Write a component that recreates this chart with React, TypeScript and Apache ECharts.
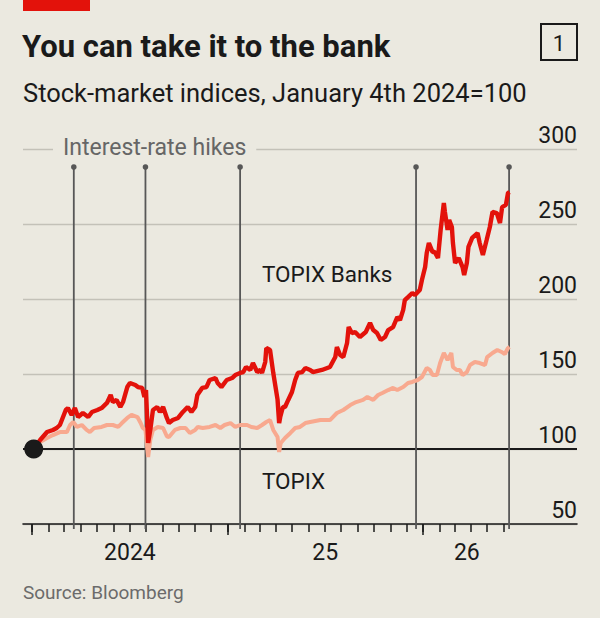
import React, { useEffect, useRef } from "react";
import * as echarts from "echarts";

// TOPIX Banks index, rebased to 100 on January 4th 2024
const banksData: [string, number][] = [
  ["2024-01-04", 100], ["2024-01-16", 106], ["2024-01-29", 111.3], ["2024-02-09", 112.7],
  ["2024-02-16", 114], ["2024-02-22", 116], ["2024-03-04", 126], ["2024-03-08", 127.3],
  ["2024-03-15", 122.7], ["2024-03-21", 127.3], ["2024-03-27", 121.3], ["2024-04-05", 124],
  ["2024-04-15", 121.3], ["2024-04-22", 124.7], ["2024-05-02", 126], ["2024-05-10", 127.3],
  ["2024-05-20", 130.7], ["2024-05-27", 136], ["2024-05-31", 131.3], ["2024-06-07", 132.7],
  ["2024-06-14", 128], ["2024-06-19", 131.3], ["2024-06-27", 141.3], ["2024-07-02", 144],
  ["2024-07-12", 142.7], ["2024-07-17", 141.3], ["2024-07-25", 140.7], ["2024-07-29", 134.7],
  ["2024-08-01", 139.3], ["2024-08-05", 104], ["2024-08-09", 112.7], ["2024-08-14", 126],
  ["2024-08-22", 128], ["2024-08-27", 124.7], ["2024-09-02", 128], ["2024-09-09", 120.7],
  ["2024-09-13", 117.3], ["2024-09-20", 119.3], ["2024-09-30", 120.7], ["2024-10-09", 124.7],
  ["2024-10-18", 128], ["2024-10-25", 124.7], ["2024-11-01", 128], ["2024-11-05", 136],
  ["2024-11-14", 140.7], ["2024-11-22", 141.3], ["2024-11-28", 146], ["2024-12-09", 147.3],
  ["2024-12-13", 144], ["2024-12-20", 141.3], ["2024-12-30", 146], ["2025-01-09", 147.3],
  ["2025-01-15", 149.3], ["2025-01-24", 150.7], ["2025-01-30", 151.3], ["2025-02-04", 154.7],
  ["2025-02-12", 152.7], ["2025-02-17", 157.3], ["2025-02-25", 151.3], ["2025-03-03", 152.7],
  ["2025-03-06", 150.7], ["2025-03-12", 158], ["2025-03-14", 167.3], ["2025-03-21", 166],
  ["2025-03-27", 150.7], ["2025-04-04", 133], ["2025-04-07", 117.3], ["2025-04-09", 121.3],
  ["2025-04-14", 128], ["2025-04-18", 128], ["2025-04-24", 132.7], ["2025-05-01", 138],
  ["2025-05-07", 146], ["2025-05-12", 150.7], ["2025-05-20", 151.3], ["2025-05-26", 154],
  ["2025-06-04", 152.7], ["2025-06-09", 151.3], ["2025-06-26", 152.7], ["2025-07-11", 154.7],
  ["2025-07-21", 161.3], ["2025-07-24", 168], ["2025-07-30", 162.7], ["2025-08-05", 161.3],
  ["2025-08-12", 170.7], ["2025-08-15", 181.3], ["2025-08-21", 177.3], ["2025-08-27", 178],
  ["2025-09-05", 174.7], ["2025-09-16", 178], ["2025-09-24", 184], ["2025-09-30", 179.3],
  ["2025-10-07", 177.3], ["2025-10-14", 172.7], ["2025-10-22", 174.7], ["2025-10-28", 179.3],
  ["2025-11-06", 181.3], ["2025-11-14", 188], ["2025-11-19", 186], ["2025-11-25", 192.7],
  ["2025-11-28", 199.3], ["2025-12-04", 201.3], ["2025-12-12", 204], ["2025-12-17", 202.7],
  ["2025-12-26", 206], ["2025-12-30", 212.7], ["2026-01-05", 221.3], ["2026-01-08", 230.7],
  ["2026-01-12", 237.3], ["2026-01-19", 231.3], ["2026-01-23", 231.3], ["2026-01-29", 227.3],
  ["2026-02-03", 246], ["2026-02-09", 264], ["2026-02-11", 258], ["2026-02-16", 246],
  ["2026-02-19", 252.7], ["2026-02-24", 248], ["2026-02-26", 237.3], ["2026-03-02", 224],
  ["2026-03-09", 227.3], ["2026-03-16", 221.3], ["2026-03-19", 216], ["2026-03-24", 224],
  ["2026-03-27", 234.7], ["2026-04-03", 240.7], ["2026-04-13", 244], ["2026-04-17", 237.3],
  ["2026-04-23", 229.3], ["2026-04-30", 239.3], ["2026-05-06", 248], ["2026-05-11", 258],
  ["2026-05-19", 257.3], ["2026-05-25", 250.7], ["2026-05-29", 261.3], ["2026-06-05", 262.7],
  ["2026-06-09", 270.7], ["2026-06-12", 271.3],
];

// Broad TOPIX index, rebased to 100 on January 4th 2024
const topixData: [string, number][] = [
  ["2024-01-04", 100], ["2024-01-16", 104.7], ["2024-01-29", 107.3], ["2024-02-09", 109.3],
  ["2024-02-22", 111.3], ["2024-03-06", 111.3], ["2024-03-12", 116], ["2024-03-18", 118],
  ["2024-03-25", 114.7], ["2024-04-03", 116], ["2024-04-12", 112.7], ["2024-04-18", 111.3],
  ["2024-04-26", 114], ["2024-05-10", 114.7], ["2024-05-20", 116], ["2024-05-31", 116],
  ["2024-06-10", 114.7], ["2024-06-17", 117.3], ["2024-06-27", 120.7], ["2024-07-05", 122.7],
  ["2024-07-16", 121.3], ["2024-07-22", 117.3], ["2024-07-26", 114], ["2024-07-31", 112.7],
  ["2024-08-05", 94.7], ["2024-08-09", 106], ["2024-08-14", 112.7], ["2024-08-23", 114.7],
  ["2024-09-02", 114], ["2024-09-09", 108.5], ["2024-09-13", 108], ["2024-09-24", 112.7],
  ["2024-10-04", 114], ["2024-10-14", 114], ["2024-10-22", 110.7], ["2024-11-01", 112.7],
  ["2024-11-06", 114.7], ["2024-11-15", 114], ["2024-11-28", 114.7], ["2024-12-09", 116],
  ["2024-12-18", 114], ["2024-12-26", 116], ["2025-01-06", 117.3], ["2025-01-15", 114.7],
  ["2025-01-24", 116], ["2025-02-06", 116], ["2025-02-14", 114.7], ["2025-02-25", 114],
  ["2025-03-06", 116], ["2025-03-14", 118], ["2025-03-21", 119.3], ["2025-03-27", 112.7],
  ["2025-04-04", 108], ["2025-04-07", 98], ["2025-04-10", 104], ["2025-04-18", 107.3],
  ["2025-04-28", 110.7], ["2025-05-07", 114], ["2025-05-16", 114.7], ["2025-05-26", 117.3],
  ["2025-06-04", 118], ["2025-06-23", 119.3], ["2025-07-11", 119.3], ["2025-07-24", 124],
  ["2025-08-05", 126], ["2025-08-18", 129.3], ["2025-08-29", 131.3], ["2025-09-11", 132.7],
  ["2025-09-19", 134.7], ["2025-09-30", 132.7], ["2025-10-09", 136], ["2025-10-17", 137.3],
  ["2025-10-28", 139.3], ["2025-11-06", 140.7], ["2025-11-14", 139.3], ["2025-11-25", 141.3],
  ["2025-12-04", 144], ["2025-12-12", 144.7], ["2025-12-22", 146], ["2025-12-30", 148],
  ["2026-01-08", 154], ["2026-01-14", 152.7], ["2026-01-19", 149.3], ["2026-01-27", 149.3],
  ["2026-02-02", 157.3], ["2026-02-09", 164], ["2026-02-16", 159.3], ["2026-02-23", 164],
  ["2026-02-26", 154.7], ["2026-03-05", 152.7], ["2026-03-11", 152.7], ["2026-03-16", 149.3],
  ["2026-03-24", 151.3], ["2026-03-30", 156], ["2026-04-08", 158], ["2026-04-17", 157.3],
  ["2026-04-27", 156], ["2026-05-01", 161.3], ["2026-05-11", 164], ["2026-05-20", 166],
  ["2026-05-28", 164.7], ["2026-06-03", 163.3], ["2026-06-09", 167.3], ["2026-06-12", 168],
];

// Bank of Japan interest-rate hikes
const hikeDates: string[] = ["2024-03-19", "2024-07-31", "2025-01-24", "2025-12-19", "2026-06-11"];

// Year labels along the time axis
const yearLabels: string[] = ["2024", "25", "26"];

const BG = "#ebe9e0";
const INK = "#1a1a1a";
const FONT = "Roboto, 'Noto Sans', sans-serif";

const ts = (s: string): number => {
  const [y, m, d] = s.split("-").map(Number);
  return new Date(y, m - 1, d).getTime();
};
const toPoints = (rows: [string, number][]) => rows.map(([d, v]) => [ts(d), v]);

// Axis range and tick positions
const xMin = ts("2023-12-15");
const xMax = ts("2026-10-16");
const monthTicks: number[] = [];
for (let y = 2024; y <= 2026; y++) {
  for (let m = 0; m < 12; m++) {
    if (y === 2026 && m > 5) break;
    monthTicks.push(new Date(y, m, 1).getTime());
  }
}
const yearTicks = [ts("2024-01-01"), ts("2025-01-01"), ts("2026-01-01")];
const yearLabelAt = [ts("2024-07-02"), ts("2025-07-02"), ts("2026-03-24")];

export default function App() {
  const ref = useRef<HTMLDivElement>(null);

  useEffect(() => {
    if (!ref.current) return;
    const chart = echarts.init(ref.current, null, { renderer: "svg" });

    const option: any = {
      animation: false,
      backgroundColor: BG,
      textStyle: { fontFamily: FONT },
      grid: { left: 23, right: 23, top: 149, bottom: 94, containLabel: false, outerBoundsMode: "none" },
      xAxis: [
        {
          type: "value",
          min: xMin,
          max: xMax,
          position: "bottom",
          axisLine: { show: true, onZero: false, lineStyle: { color: INK, width: 1.6 } },
          axisTick: { show: true, customValues: monthTicks, length: 8, lineStyle: { color: INK, width: 1.5 } },
          axisLabel: {
            show: true,
            customValues: yearLabelAt,
            margin: 17,
            fontSize: 23,
            color: INK,
            fontFamily: FONT,
            formatter: (v: number) => {
              let best = 0;
              yearLabelAt.forEach((t, i) => {
                if (Math.abs(t - v) < Math.abs(yearLabelAt[best] - v)) best = i;
              });
              return yearLabels[best];
            },
          },
          splitLine: { show: false },
        },
        {
          type: "value",
          min: xMin,
          max: xMax,
          position: "bottom",
          axisLine: { show: false, onZero: false },
          axisTick: { show: true, customValues: yearTicks, length: 11, lineStyle: { color: INK, width: 1.5 } },
          axisLabel: { show: false },
          splitLine: { show: false },
        },
      ],
      yAxis: {
        type: "value",
        position: "right",
        min: 50,
        max: 300,
        interval: 50,
        axisLine: { show: false },
        axisTick: { show: false },
        splitLine: { show: true, lineStyle: { color: "#c3c1b8", width: 1.3 } },
        axisLabel: {
          inside: true,
          margin: 0,
          verticalAlign: "bottom",
          padding: [0, 0, 2, 0],
          fontSize: 23,
          color: INK,
          fontFamily: FONT,
        },
      },
      series: [
        {
          type: "custom",
          name: "Interest-rate hikes",
          xAxisIndex: 0,
          yAxisIndex: 0,
          z: 1,
          clip: false,
          silent: true,
          data: hikeDates.map((d) => [ts(d), 288]),
          renderItem: (params: any, api: any) => {
            const top = api.coord([api.value(0), api.value(1)]);
            const bottom = api.coord([api.value(0), 50]);
            return {
              type: "group",
              children: [
                {
                  type: "line",
                  shape: { x1: top[0], y1: top[1], x2: bottom[0], y2: bottom[1] + 5 },
                  style: { stroke: "#575757", lineWidth: 1.8 },
                },
                {
                  type: "circle",
                  shape: { cx: top[0], cy: top[1], r: 2.8 },
                  style: { fill: "#575757" },
                },
              ],
            };
          },
          markLine: {
            silent: true,
            z: 1,
            symbol: "none",
            label: { show: false },
            lineStyle: { color: INK, width: 2, type: "solid" },
            data: [{ yAxis: 100 }],
          },
        },
        {
          type: "line",
          name: "TOPIX",
          data: toPoints(topixData),
          showSymbol: false,
          z: 3,
          lineStyle: { color: "#f8a98f", width: 4 },
          itemStyle: { color: "#f8a98f" },
        },
        {
          type: "line",
          name: "TOPIX Banks",
          data: toPoints(banksData),
          showSymbol: false,
          z: 4,
          lineStyle: { color: "#e3120b", width: 4.4 },
          itemStyle: { color: "#e3120b" },
        },
        {
          type: "scatter",
          name: "Base",
          data: [[ts(banksData[0][0]), banksData[0][1]]],
          symbolSize: 19,
          z: 6,
          itemStyle: { color: INK, opacity: 1 },
        },
      ],
      graphic: [
        { type: "rect", shape: { x: 23, y: 0, width: 67, height: 11 }, style: { fill: "#e3120b" } },
        {
          type: "text",
          x: 22,
          y: 46,
          style: { text: "You can take it to the bank", font: `bold 31px ${FONT}`, fill: INK, verticalAlign: "middle" },
        },
        {
          type: "text",
          x: 23,
          y: 93,
          style: { text: "Stock-market indices, January 4th 2024=100", font: `25.5px ${FONT}`, fill: INK, verticalAlign: "middle" },
        },
        {
          type: "rect",
          shape: { x: 541, y: 24, width: 36, height: 36 },
          style: { fill: "none", stroke: INK, lineWidth: 2 },
        },
        {
          type: "text",
          x: 559,
          y: 43,
          style: { text: "1", font: `22px ${FONT}`, fill: INK, align: "center", verticalAlign: "middle" },
        },
        {
          type: "text",
          x: 53,
          y: 147,
          z: 10,
          style: {
            text: "Interest-rate hikes",
            font: `23px ${FONT}`,
            fill: "#666666",
            verticalAlign: "middle",
            backgroundColor: BG,
            padding: [2, 10, 2, 10],
          },
        },
        {
          type: "text",
          x: 262,
          y: 274,
          z: 10,
          style: { text: "TOPIX Banks", font: `22.5px ${FONT}`, fill: INK, verticalAlign: "middle" },
        },
        {
          type: "text",
          x: 262,
          y: 481,
          z: 10,
          style: { text: "TOPIX", font: `22.5px ${FONT}`, fill: INK, verticalAlign: "middle" },
        },
        {
          type: "text",
          x: 23,
          y: 592,
          style: { text: "Source: Bloomberg", font: `19px ${FONT}`, fill: "#6b6b6b", verticalAlign: "middle" },
        },
      ],
    };

    chart.setOption(option);
    return () => chart.dispose();
  }, []);

  return (
    <div
      ref={ref}
      style={{ position: "fixed", left: 0, top: 0, width: 600, height: 618 }}
    />
  );
}
